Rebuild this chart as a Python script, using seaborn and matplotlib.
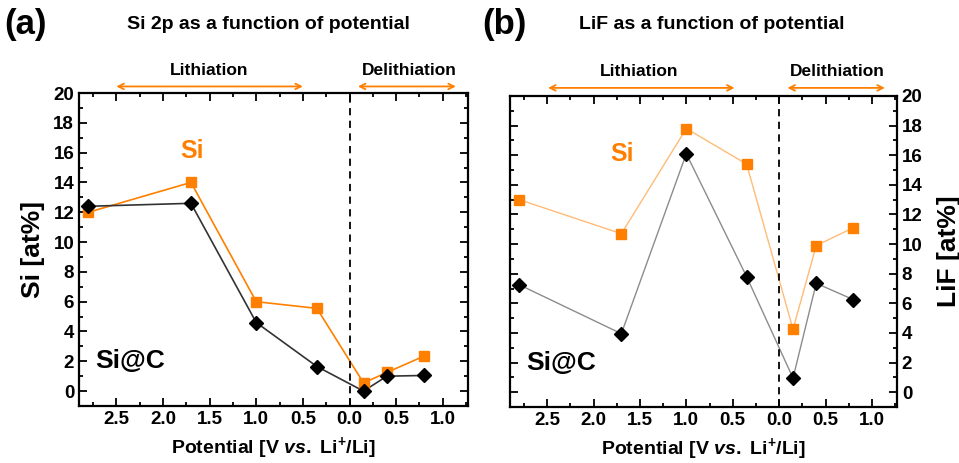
import numpy as np
import pandas as pd
import matplotlib
matplotlib.use("Agg")
import matplotlib.pyplot as plt
from matplotlib.ticker import MultipleLocator, FuncFormatter
import seaborn as sns

# potentials (V vs Li+/Li) for lithiation then delithiation
lith_potential = [2.8, 1.7, 1.0, 0.35]
delith_potential = [0.15, 0.4, 0.8]

si_si2p = [12.0, 14.0, 6.0, 5.55, 0.55, 1.25, 2.35]
sic_si2p = [12.4, 12.6, 4.6, 1.65, 0.0, 1.0, 1.05]

si_lif = [13.0, 10.7, 17.8, 15.4, 4.25, 9.9, 11.1]
sic_lif = [7.25, 3.95, 16.1, 7.8, 0.95, 7.35, 6.25]

# lithiation is drawn leftwards from 0, delithiation rightwards
xpos = [-v for v in lith_potential] + list(delith_potential)

sns.set_style("ticks")
plt.rcParams["font.family"] = ["Liberation Sans", "DejaVu Sans"]
plt.rcParams["font.weight"] = "bold"
plt.rcParams["mathtext.fontset"] = "custom"
plt.rcParams["mathtext.rm"] = "Liberation Sans:bold"
plt.rcParams["mathtext.it"] = "Liberation Sans:italic:bold"
plt.rcParams["mathtext.default"] = "rm"
plt.rcParams["text.color"] = "black"
plt.rcParams["axes.labelcolor"] = "black"
plt.rcParams["xtick.color"] = "black"
plt.rcParams["ytick.color"] = "black"
plt.rcParams["axes.edgecolor"] = "black"

ORANGE = "#ff8000"

fig = plt.figure(figsize=(9.59, 4.63), dpi=100)
ax1 = fig.add_axes([0.0824, 0.1231, 0.4056, 0.676])
ax2 = fig.add_axes([0.5318, 0.1210, 0.4035, 0.6717])


def draw(ax, si, sic, light):
    df = pd.DataFrame({"x": xpos, "Si": si, "Si@C": sic})
    if light:
        oc, kc, lw = "#ffbb77", "#8c8c8c", 1.0
    else:
        oc, kc, lw = ORANGE, "#333333", 1.2
    sns.lineplot(data=df, x="x", y="Si", ax=ax, sort=False, color=oc, lw=lw)
    sns.lineplot(data=df, x="x", y="Si@C", ax=ax, sort=False, color=kc, lw=lw)
    ax.plot(df["x"], df["Si"], ls="none", marker="s", ms=7, color=ORANGE,
            mec=ORANGE, zorder=5)
    ax.plot(df["x"], df["Si@C"], ls="none", marker="D", ms=7, color="black",
            mec="black", zorder=5)
    ax.axvline(0, color="black", ls=(0, (4, 3)), lw=1.3)
    ax.set_xlim(-2.9, 1.27)
    ax.set_ylim(-1, 20)
    ax.xaxis.set_major_locator(MultipleLocator(0.5))
    ax.xaxis.set_minor_locator(MultipleLocator(0.25))
    ax.yaxis.set_major_locator(MultipleLocator(2))
    ax.yaxis.set_minor_locator(MultipleLocator(1))
    ax.xaxis.set_major_formatter(FuncFormatter(lambda v, p: f"{abs(v):.1f}"))
    ax.tick_params(which="both", direction="in", top=True, right=True,
                   bottom=True, left=True, width=1.3)
    ax.tick_params(which="major", length=6, labelsize=13.5)
    ax.tick_params(which="minor", length=3)
    for s in ax.spines.values():
        s.set_linewidth(1.6)
    for lab in ax.get_xticklabels() + ax.get_yticklabels():
        lab.set_fontweight("bold")
    ax.set_xlabel("Potential [V $\\mathit{vs.}$ Li$^{+}$/Li]", fontsize=14,
                  fontweight="bold", labelpad=5)
    ax.text(-1.69, 16.1, "Si", color=ORANGE, fontsize=18, fontweight="bold",
            ha="center", va="center")
    ax.text(-2.35, 2.0, "Si@C", color="black", fontsize=19, fontweight="bold",
            ha="center", va="center")


draw(ax1, si_si2p, sic_si2p, light=False)
draw(ax2, si_lif, sic_lif, light=True)

ax1.set_ylabel("Si [at%]", fontsize=19, fontweight="bold", labelpad=6)
ax2.yaxis.set_label_position("right")
ax2.yaxis.tick_right()
ax2.tick_params(axis="y", which="both", left=True, right=True,
                labelleft=False, labelright=True)
ax2.set_ylabel("LiF [at%]", fontsize=19, fontweight="bold", labelpad=10)

# lithiation / delithiation arrows above each panel
for ax, ay, ty, lith, delith, ltx, dtx in [
    (ax1, 1.021, 1.073, (-2.5, -0.5), (0.09, 1.14), -1.5, 0.64),
    (ax2, 1.026, 1.08, (-2.49, -0.48), (0.09, 1.14), -1.51, 0.63),
]:
    for x0, x1 in (lith, delith):
        ax.annotate("", xy=(x1, ay), xytext=(x0, ay),
                    xycoords=("data", "axes fraction"),
                    textcoords=("data", "axes fraction"),
                    arrowprops=dict(arrowstyle="<->", color=ORANGE, lw=1.3,
                                    shrinkA=0, shrinkB=0),
                    annotation_clip=False)
    ax.text(ltx, ty, "Lithiation", transform=ax.get_xaxis_transform(),
            ha="center", va="center", fontsize=12.5, fontweight="bold")
    ax.text(dtx, ty, "Delithiation", transform=ax.get_xaxis_transform(),
            ha="center", va="center", fontsize=12.5, fontweight="bold")

fig.text(0.004, 0.948, "(a)", fontsize=25, fontweight="bold", va="center")
fig.text(0.280, 0.948, "Si 2p as a function of potential", fontsize=14,
         fontweight="bold", ha="center", va="center")
fig.text(0.503, 0.948, "(b)", fontsize=25, fontweight="bold", va="center")
fig.text(0.742, 0.948, "LiF as a function of potential", fontsize=14,
         fontweight="bold", ha="center", va="center")

fig.savefig("out.png", dpi=100)
